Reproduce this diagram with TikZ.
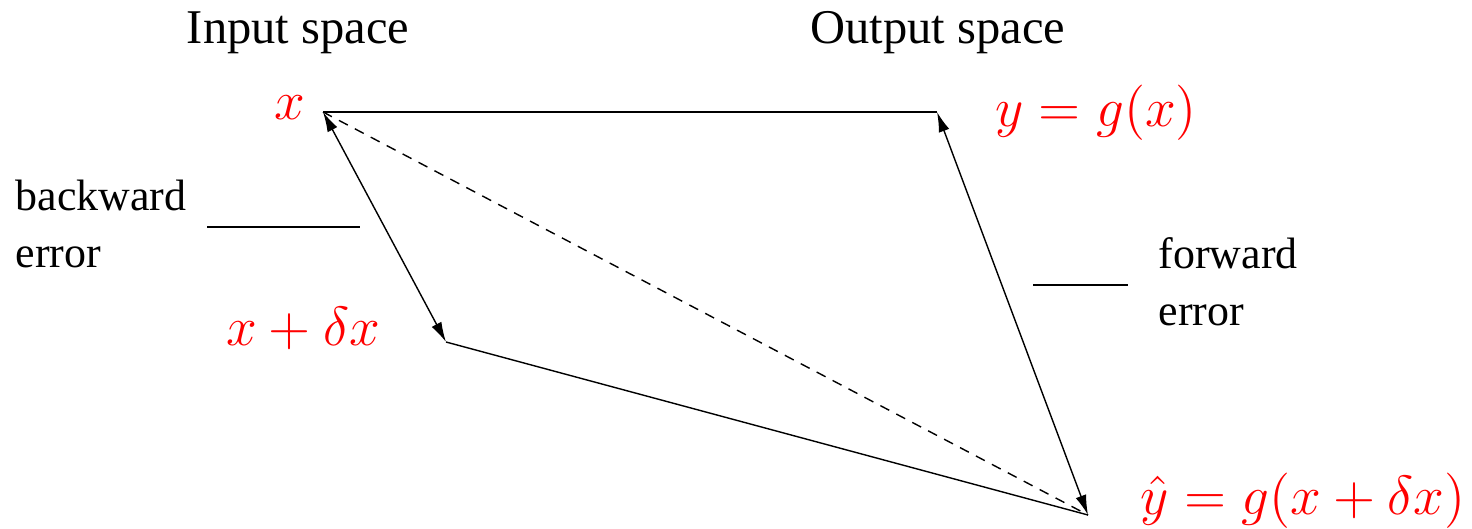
\RequirePackage{fix-cm}
\documentclass[tikz,border=0pt]{standalone}
\usepackage{fontspec}
\setmainfont{Liberation Serif}
\usetikzlibrary{arrows.meta}
\definecolor{cLabel}{HTML}{FF0000}

\tikzset{
  pt label/.style={text=cLabel,inner sep=0pt,font=\fontsize{15.7}{19}\selectfont},
  word/.style={inner sep=0pt,font=\fontsize{12.5}{16.2}\selectfont},
  heading/.style={inner sep=0pt,font=\fontsize{13.8}{16}\selectfont},
  err arrow/.style={{Latex[length=2mm,width=1.1mm]}-{Latex[length=2mm,width=1.1mm]}},
}

\begin{document}
\begin{tikzpicture}[line width=0.4pt]
  \useasboundingbox (0,0) rectangle (14.72,5.28);
  % corner points
  \coordinate (px) at (3.23,4.16);
  \coordinate (pxd) at (4.46,1.86);
  \coordinate (py) at (9.37,4.16);
  \coordinate (pyh) at (10.88,0.13);
  % headings
  \node[heading] (inspace) at (2.98,4.95) {Input space};
  \node[heading] (outspace) at (9.38,4.95) {Output space};
  % point labels
  \node[pt label] (lx) at (2.90,4.20) {$x$};
  \node[pt label] (ly) at (10.96,4.15) {$y=g(x)$};
  \node[pt label] (lxd) at (3.03,2.00) {$x+\delta x$};
  \node[pt label] (lyh) at (13.03,0.27) {$\hat{y}=g(x+\delta x)$};
  % error labels
  \node[word,align=left,anchor=west] (bwd) at (0.15,3.04) {backward\\error};
  \node[word,align=left,anchor=west] (fwd) at (11.58,2.46) {forward\\error};
  \coordinate (bwda) at (2.07,3.01);
  \coordinate (bwdb) at (3.60,3.01);
  \coordinate (fwda) at (10.33,2.43);
  \coordinate (fwdb) at (11.28,2.43);
  \draw (bwda) -- (bwdb);
  \draw (fwda) -- (fwdb);
  % the quadrilateral
  \draw (px) -- (py);
  \draw (pxd) -- (pyh);
  \draw[dash pattern=on 1mm off 0.8mm] (px) -- (pyh);
  \draw[err arrow] (px) -- (pxd);
  \draw[err arrow] (py) -- (pyh);
\end{tikzpicture}
\end{document}
